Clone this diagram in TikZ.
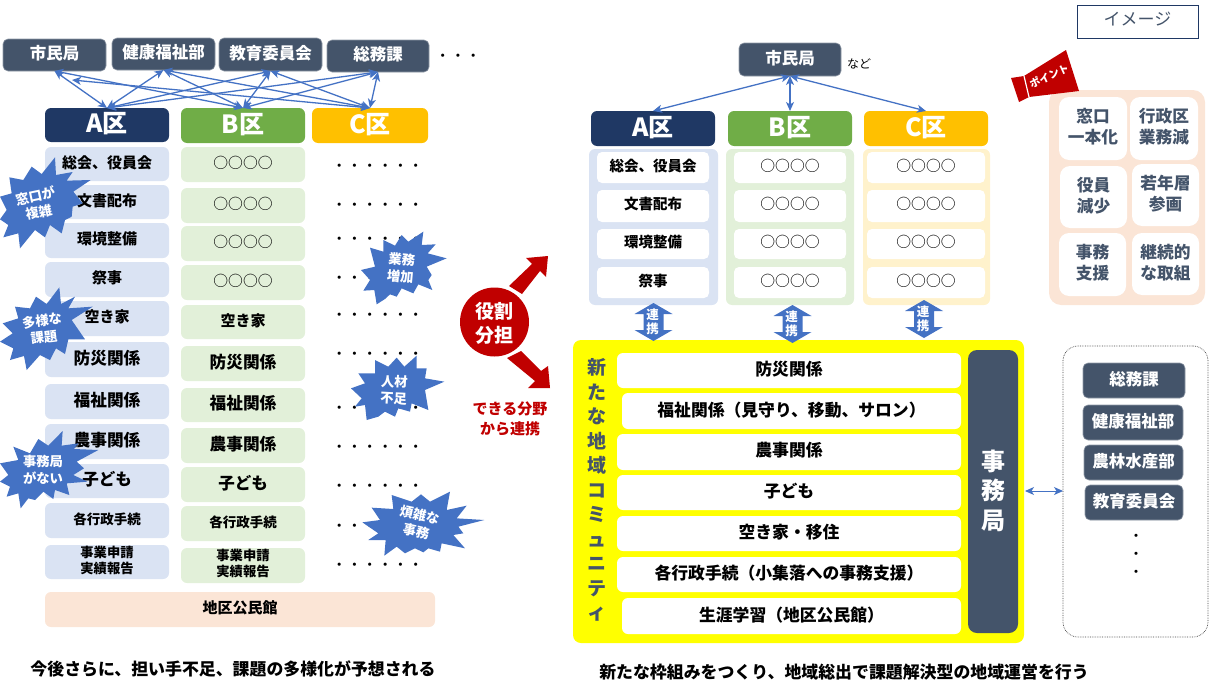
\documentclass[tikz,border=0pt]{standalone}
\usepackage{fontspec}
\setmainfont{Noto Sans CJK JP}
\usetikzlibrary{arrows.meta}
\definecolor{slate}{HTML}{44546A}
\definecolor{navy}{HTML}{1F3864}
\definecolor{grn}{HTML}{70AD47}
\definecolor{amber}{HTML}{FFC000}
\definecolor{lblue}{HTML}{DAE3F3}
\definecolor{lgreen}{HTML}{E2F0D9}
\definecolor{lyellow}{HTML}{FFF2CC}
\definecolor{peach}{HTML}{FBE5D6}
\definecolor{dred}{HTML}{C00000}
\definecolor{ablue}{HTML}{4472C4}
\definecolor{pureyellow}{RGB}{255,255,0}
\newcommand\fs[1]{\fontsize{#1}{24}\selectfont}
\newcommand\fsl[2]{\fontsize{#1}{#2}\selectfont}
\newcommand\bx[7][]{\node[bxbase,#1,minimum width={(#5-#3)*1pt},minimum height={(#6-#4)*1pt}] (#2) at ({(#3+#5)/2},{(#4+#6)/2}) {#7};}
% burst: origin, outline in third-of-a-pixel units
\newcommand\burst[3]{\fill[ablue,shift={(#1,#2)},scale=1/3] plot coordinates {#3} -- cycle;}
\tikzset{
 x=1pt,y=-1pt,
 bxbase/.style={rounded corners=6pt,inner sep=0pt,outer sep=0pt,align=center,text depth=4.5pt,font=\bfseries},
 dark/.style={bxbase,fill=slate,draw=slate!60,line width=.6pt,text=white,font=\bfseries\fs{16.5},rounded corners=5pt},
 aq/.style={fill=navy,text=white,font=\bfseries\fs{25}},
 bq/.style={fill=grn,text=white,font=\bfseries\fs{25}},
 cq/.style={fill=amber,text=white,font=\bfseries\fs{25}},
 bluerow/.style={fill=lblue},
 greenrow/.style={fill=lgreen},
 whiterow/.style={fill=white,font=\bfseries\fs{16.8}},
 whitesm/.style={fill=white,rounded corners=5pt,font=\bfseries\fs{14.5}},
 circ/.style={fill=white,rounded corners=5pt,font=\fs{14.8}},
 pointbox/.style={fill=white,rounded corners=10pt,text=slate,font=\bfseries\fsl{16.7}{21}},
 dots/.style={inner sep=0pt,font=\fs{15.3}},
 bursttext/.style={text=white,inner sep=0pt,align=center,font=\bfseries\fsl{13.3}{16.5}},
 link/.style={draw=ablue,line width=1.3pt,{Stealth[length=9pt,width=8pt,inset=2.5pt]}-{Stealth[length=9pt,width=8pt,inset=2.5pt]}},
 blockarrow/.style={fill=ablue},
 redarrow/.style={fill=dred},
 caption/.style={inner sep=0pt,font=\bfseries\fs{16.9}},
}
\begin{document}
\begin{tikzpicture}
\useasboundingbox (0,0) rectangle (1210,696);
% ---------- left part
\bx[dark]{shiL}{3}{39}{106}{71}{市民局}
\bx[dark]{kenL}{112}{38}{215}{70}{健康福祉部}
\bx[dark]{kyoL}{219}{38}{322}{71}{教育委員会}
\bx[dark]{somL}{327}{40}{429}{72}{総務課}
\node[dots] (topdots) at (458,58) {・・・};
\bx[aq]{AL}{45}{108}{169}{142}{A区}
\bx[bq]{BL}{181}{108}{305}{143}{B区}
\bx[cq]{CL}{312}{108}{428}{143}{C区}
\coordinate (shiL2) at (72,80);
\foreach \u/\v in {shiL.south/AL.north,kenL.south/AL.north,kyoL.south/AL.north,somL.south/AL.north,
  shiL.south/BL.north,kenL.south/BL.north,kyoL.south/BL.north,somL.south/BL.north,
  shiL2/CL.north,kenL.south/CL.north,kyoL.south/CL.north,somL.south/CL.north}
  \draw[link] (\u) -- (\v);
% A rows
\bx[bluerow,font=\bfseries\fs{15}]{a1}{45}{147}{169}{181}{総会、役員会}
\bx[bluerow,font=\bfseries\fs{15}]{a2}{45}{185}{169}{219}{文書配布}
\bx[bluerow,font=\bfseries\fs{15}]{a3}{45}{223}{169}{258}{環境整備}
\bx[bluerow,font=\bfseries\fs{15}]{a4}{45}{262}{169}{297}{祭事}
\bx[bluerow,font=\bfseries\fs{15}]{a5}{45}{301}{169}{336}{空き家}
\bx[bluerow,font=\bfseries\fs{16.7}]{a6}{45}{342}{169}{377}{防災関係}
\bx[bluerow,font=\bfseries\fs{16.7}]{a7}{45}{384}{169}{419}{福祉関係}
\bx[bluerow,font=\bfseries\fs{16.7}]{a8}{45}{424}{169}{459}{農事関係}
\bx[bluerow,font=\bfseries\fs{16.5}]{a9}{45}{464}{169}{498}{子ども}
\bx[bluerow,font=\bfseries\fs{13.5}]{a10}{45}{503}{169}{538}{各行政手続}
\bx[bluerow,font=\bfseries\fsl{13.3}{16}]{a11}{45}{545}{169}{579}{事業申請\\実績報告}
% B rows
\bx[greenrow,font=\fs{14.8}]{b1}{181}{147}{305}{182}{○○○○}
\bx[greenrow,font=\fs{14.8}]{b2}{181}{188}{305}{223}{○○○○}
\bx[greenrow,font=\fs{14.8}]{b3}{181}{226}{305}{261}{○○○○}
\bx[greenrow,font=\fs{14.8}]{b4}{181}{265}{305}{300}{○○○○}
\bx[greenrow,font=\bfseries\fs{15}]{b5}{181}{305}{305}{339}{空き家}
\bx[greenrow,font=\bfseries\fs{16.7}]{b6}{181}{346}{305}{381}{防災関係}
\bx[greenrow,font=\bfseries\fs{16.7}]{b7}{181}{388}{305}{422}{福祉関係}
\bx[greenrow,font=\bfseries\fs{16.7}]{b8}{181}{428}{305}{463}{農事関係}
\bx[greenrow,font=\bfseries\fs{16.5}]{b9}{181}{467}{305}{502}{子ども}
\bx[greenrow,font=\bfseries\fs{13.5}]{b10}{181}{506}{305}{541}{各行政手続}
\bx[greenrow,font=\bfseries\fsl{13.3}{16}]{b11}{181}{548}{305}{583}{事業申請\\実績報告}
% C dots
\foreach \yy [count=\i] in {167.5,206.5,240.5,279.5,316.5,355.5,409.5,448.5,487.5,527.5,566.5}
  \node[dots] (cdot\i) at (377.5,\yy) {・・・・・・};
\bx[fill=peach,font=\bfseries\fs{15}]{hall}{45}{592}{435}{627}{地区公民館}
\node[caption] (capL) at (233,669) {今後さらに、担い手不足、課題の多様化が予想される};
% bursts
\burst{0}{150}{(165,22)(168,75)(218,66)(200,92)(272,90)(220,125)(248,160)(218,170)(215,200)(195,210)(185,250)(150,225)(135,262)(105,240)(60,295)(55,250)(10,262)(25,225)(0,208)(20,180)(0,140)(35,130)(28,82)(70,90)(95,50)(125,72)}
\node[bursttext,rotate=12] (bmado) at (37,204) {窓口が\\複雑};
\burst{0}{280}{(178,22)(183,72)(225,50)(205,85)(278,80)(215,120)(255,178)(205,178)(195,222)(168,205)(150,240)(120,225)(80,270)(72,228)(30,240)(40,205)(0,185)(38,160)(8,130)(55,115)(45,80)(90,85)(108,50)(140,72)}
\node[bursttext,rotate=7] (btayo) at (43,329) {多様な\\課題};
\burst{0}{425}{(188,18)(185,62)(235,55)(222,72)(295,75)(230,110)(252,130)(220,150)(262,170)(200,175)(208,210)(165,195)(160,222)(130,200)(105,225)(85,220)(62,250)(55,205)(20,215)(30,185)(0,170)(25,150)(0,115)(55,105)(40,65)(90,85)(115,42)(145,62)}
\node[bursttext] (bjimu) at (43,470) {事務局\\がない};
\burst{345}{225}{(235,20)(230,60)(272,58)(248,85)(305,100)(245,125)(260,150)(250,165)(262,195)(220,178)(205,205)(170,190)(155,215)(135,208)(120,222)(95,238)(88,195)(55,197)(75,165)(48,135)(90,125)(75,68)(115,80)(115,45)(150,62)(170,30)(190,50)}
\node[bursttext,rotate=-5] (bgyo) at (401,268) {業務\\増加};
\burst{345}{225}{(215,392)(215,430)(245,430)(240,460)(298,470)(240,495)(250,555)(200,535)(195,560)(160,550)(150,575)(120,560)(100,575)(65,585)(60,540)(30,545)(50,520)(18,490)(60,475)(40,445)(90,445)(90,405)(130,425)(155,398)(178,425)}
\node[bursttext,rotate=-3] (bjin) at (394,390) {人材\\不足};
\burst{355}{485}{(285,20)(275,75)(335,62)(305,100)(388,105)(310,125)(325,145)(295,150)(330,190)(260,175)(255,200)(220,190)(205,202)(180,190)(150,205)(125,185)(88,212)(92,165)(40,165)(70,145)(22,112)(75,105)(50,68)(115,72)(110,30)(170,50)(198,28)(225,50)}
\node[bursttext,rotate=-12] (bhan) at (418,523) {煩雑な\\事務};
% centre
\fill[redarrow] (509,286) -- (532,264) -- (526,258) -- (548,256) -- (546,277) -- (540,271) -- (522,294) -- cycle;
\fill[redarrow] (507,358) -- (521,351) -- (541,371) -- (548,366) -- (550,388) -- (528,388) -- (535,381) -- cycle;
\node[circle,fill=dred,minimum size=69pt,inner sep=0pt,text=white,align=center,text depth=0pt,font=\bfseries\fsl{19}{24}] (role) at (494.5,322) {役割\\分担};
\node[inner sep=0pt,text=dred,align=center,font=\bfseries\fsl{15}{20}] (can) at (510,419) {できる分野\\から連携};
% ---------- right part
\bx[dark]{shiR}{739}{43}{841}{76}{市民局}
\node[inner sep=0pt,font=\fs{12}] (nado) at (859,64) {など};
\bx[aq]{AR}{591}{111}{715}{146}{A区}
\bx[bq]{BR}{728}{111}{852}{146}{B区}
\bx[cq]{CR}{864}{111}{988}{146}{C区}
\draw[link] (shiR.south) -- (AR.north);
\draw[link] (shiR.south) -- (BR.north);
\draw[link] (shiR.south) -- (CR.north);
\bx[fill=lblue]{pA}{589}{149}{718}{305}{}
\bx[fill=lgreen]{pB}{726}{149}{854}{305}{}
\bx[fill=lyellow]{pC}{863}{149}{990}{305}{}
\bx[whitesm]{ra1}{597}{152}{709}{183}{総会、役員会}
\bx[whitesm]{ra2}{597}{190}{709}{222}{文書配布}
\bx[whitesm]{ra3}{597}{229}{709}{259}{環境整備}
\bx[whitesm]{ra4}{597}{267}{709}{298}{祭事}
\foreach \a/\b [count=\i] in {152/183,190/222,229/259,267/298}{
  \bx[circ]{rb\i}{734}{\a}{846}{\b}{○○○○}
  \bx[circ]{rc\i}{867}{\a}{985}{\b}{○○○○}
}
\bx[fill=pureyellow,rounded corners=8pt]{yellowbox}{573}{340}{1024}{643}{}
\foreach \cx/\cy [count=\i] in {653.5/303,792.5/305,924/300}{
  \fill[blockarrow] (\cx,\cy) -- (\cx+19,\cy+11) -- (\cx+10,\cy+11) -- (\cx+10,\cy+27) -- (\cx+19,\cy+27) -- (\cx,\cy+38) -- (\cx-19,\cy+27) -- (\cx-10,\cy+27) -- (\cx-10,\cy+11) -- (\cx-19,\cy+11) -- cycle;
  \node[inner sep=0pt,text=white,align=center,font=\bfseries\fsl{12.5}{14.5}] (link\i) at (\cx-1,\cy+19) {連\\携};
}
\node[inner sep=0pt,text=slate,align=center,font=\bfseries\fsl{19}{24.5}] (vert) at (597,490) {新\\た\\な\\地\\域\\コ\\ミ\\ュ\\ニ\\テ\\ィ};
\bx[whiterow]{w1}{617}{353}{961}{388}{防災関係}
\bx[whiterow]{w2}{622}{393}{961}{429}{福祉関係（見守り、移動、サロン）}
\bx[whiterow]{w3}{617}{434}{961}{470}{農事関係}
\bx[whiterow]{w4}{617}{475}{961}{510}{子ども}
\bx[whiterow]{w5}{617}{516}{961}{551}{空き家・移住}
\bx[whiterow]{w6}{617}{557}{961}{592}{各行政手続（小集落への事務支援）}
\bx[whiterow]{w7}{622}{598}{961}{634}{生涯学習（地区公民館）}
\bx[fill=slate,text=white,rounded corners=9pt,font=\bfseries\fsl{24}{29.5}]{office}{968}{350}{1018}{633}{事\\務\\局}
\bx[draw=black!75,densely dotted,line width=.7pt,rounded corners=15pt]{side}{1063}{346}{1208}{637}{}
\coordinate (lk1) at (1025,491);
\draw[link,line width=1pt] (lk1) -- (side.west |- lk1);
\bx[dark]{s1}{1083}{363}{1185}{398}{総務課}
\bx[dark]{s2}{1083}{405}{1183}{440}{健康福祉部}
\bx[dark]{s3}{1084}{445}{1183}{480}{農林水産部}
\bx[dark]{s4}{1085}{485}{1183}{520}{教育委員会}
\node[inner sep=0pt,align=center,font=\fsl{15}{18}] (vdots) at (1136,556) {・\\・\\・};
% top right
\bx[draw=navy,line width=1pt,rounded corners=0pt,text=slate,font=\fs{17}]{img}{1077}{5}{1198}{38}{イメージ}
\bx[fill=peach,rounded corners=12pt]{pt}{1049}{90}{1205}{305}{}
\bx[pointbox]{p1}{1059}{97}{1127}{160}{窓口\\一本化}
\bx[pointbox]{p2}{1130}{97}{1198}{160}{行政区\\業務減}
\bx[pointbox]{p3}{1060}{166}{1127}{228}{役員\\減少}
\bx[pointbox]{p4}{1132}{164}{1199}{226}{若年層\\参画}
\bx[pointbox]{p5}{1059}{233}{1126}{296}{事務\\支援}
\bx[pointbox]{p6}{1132}{233}{1199}{295}{継続的\\な取組}
\fill[dred] (1011,78) -- (1024,76) -- (1066,50) -- (1079,91) -- (1029,97) -- (1019,102) -- cycle;
\draw[white,line width=1.2pt] (1024,76) -- (1029,97);
\node[inner sep=0pt,text=white,rotate=25,font=\bfseries\fs{10.5}] (pnt) at (1049,76) {ポイント};
\node[caption] (capR) at (844,672) {新たな枠組みをつくり、地域総出で課題解決型の地域運営を行う};
\end{tikzpicture}
\end{document}
